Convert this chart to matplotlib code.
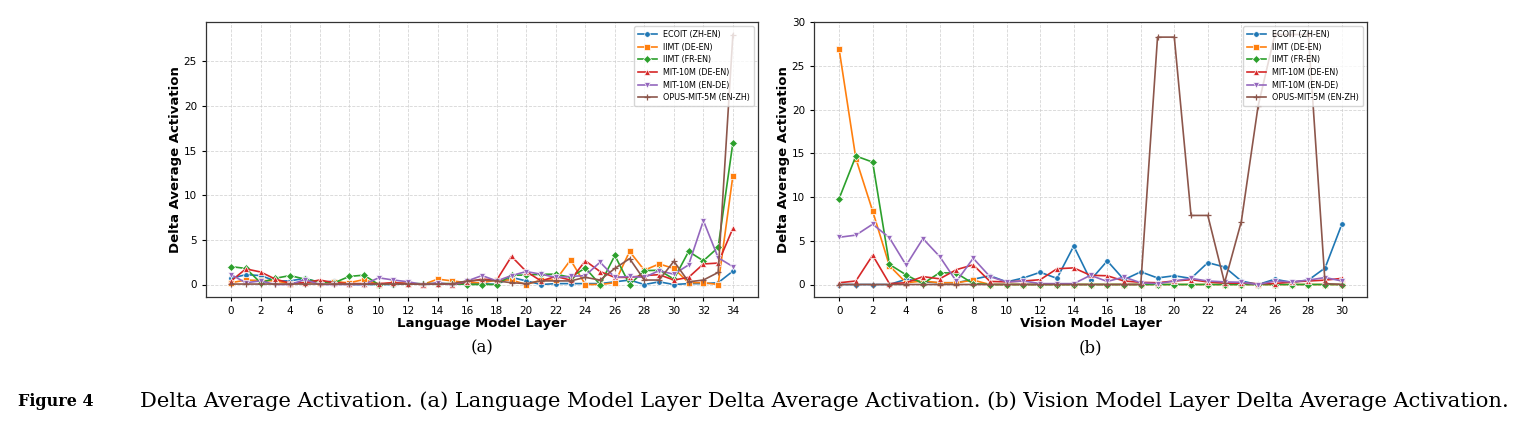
import matplotlib
matplotlib.use("Agg")
import matplotlib.pyplot as plt
import numpy as np

series_names = ["ECOIT (ZH-EN)", "IIMT (DE-EN)", "IIMT (FR-EN)",
                "MIT-10M (DE-EN)", "MIT-10M (EN-DE)", "OPUS-MIT-5M (EN-ZH)"]
markers = ["o", "s", "D", "^", "v", "+"]
colors = ["#1f77b4", "#ff7f0e", "#2ca02c", "#d62728", "#9467bd", "#8c564b"]

# ---- (a) Language model layers 0..34 ----
lm_layers = list(range(35))
lm_ecoit = [0.7, 1.1, 1.0, 0.4, 0.4, 0.7, 0.2, 0.4, 0.0, 0.0, 0.0, 0.0, 0.1, 0.0, 0.1,
            0.0, 0.1, 0.1, 0.0, 0.8, 0.4, 0.0, 0.1, 0.1, 0.1, 0.1, 0.3, 0.5, 0.0, 0.3,
            0.0, 0.1, 0.1, 0.2, 1.5]
lm_iimt_de = [0.2, 0.5, 0.45, 0.4, 0.1, 0.2, 0.2, 0.3, 0.2, 0.55, 0.0, 0.2, 0.1, 0.0, 0.6,
              0.4, 0.2, 0.2, 0.5, 0.5, 0.0, 0.5, 0.5, 2.75, 0.0, 0.0, 0.2, 3.7, 1.6, 2.3,
              1.8, 0.2, 0.2, 0.0, 12.2]
lm_iimt_fr = [2.0, 1.8, 0.2, 0.7, 1.0, 0.6, 0.3, 0.2, 0.9, 1.05, 0.0, 0.1, 0.1, 0.1, 0.1,
              0.1, 0.0, 0.0, 0.0, 1.05, 1.05, 1.15, 1.15, 0.8, 1.85, 0.0, 3.25, 0.0, 1.55, 1.6,
              0.6, 3.7, 2.65, 4.15, 15.9]
lm_mit_de = [0.4, 1.75, 1.4, 0.6, 0.15, 0.2, 0.5, 0.2, 0.1, 0.1, 0.1, 0.2, 0.1, 0.0, 0.1,
             0.0, 0.3, 0.6, 0.5, 3.15, 1.45, 0.4, 0.9, 0.5, 2.65, 1.45, 0.8, 0.8, 1.0, 1.1,
             0.5, 0.8, 2.3, 2.4, 6.3]
lm_mit_en = [1.1, 0.2, 0.4, 0.0, 0.0, 0.55, 0.0, 0.0, 0.0, 0.0, 0.75, 0.5, 0.3, 0.0, 0.2,
             0.0, 0.4, 1.0, 0.4, 1.0, 1.45, 1.15, 0.8, 0.9, 1.0, 2.5, 0.8, 0.9, 0.8, 1.55,
             1.15, 2.2, 7.15, 3.0, 2.0]
lm_opus = [0.05, 0.05, 0.05, 0.05, 0.05, 0.05, 0.05, 0.05, 0.05, 0.05, 0.05, 0.05, 0.05, 0.05, 0.05,
           0.1, 0.4, 0.5, 0.4, 0.2, 0.1, 0.4, 0.4, 0.4, 0.8, 0.5, 1.8, 2.9, 0.5, 0.5,
           2.6, 0.3, 0.5, 1.35, 28.0]

# ---- (b) Vision model layers 0..30 ----
vm_layers = list(range(31))
vm_ecoit = [0.0, 0.0, 0.0, 0.0, 0.6, 0.3, 0.2, 0.2, 0.6, 1.0, 0.3, 0.75, 1.4, 0.7, 4.4,
            0.5, 2.7, 0.55, 1.45, 0.75, 1.0, 0.7, 2.5, 2.0, 0.4, 0.0, 0.6, 0.25, 0.5, 1.9, 6.9]
vm_iimt_de = [26.9, 14.4, 8.4, 2.15, 0.2, 0.4, 0.2, 0.2, 0.5, 0.0, 0.0, 0.0, 0.0, 0.0, 0.0,
              0.0, 0.0, 0.0, 0.0, 0.0, 0.0, 0.0, 0.0, 0.0, 0.0, 0.0, 0.0, 0.0, 0.0, 0.0, 0.0]
vm_iimt_fr = [9.83, 14.7, 14.0, 2.3, 1.1, 0.1, 1.35, 1.3, 0.1, 0.0, 0.0, 0.0, 0.0, 0.0, 0.0,
              0.0, 0.0, 0.0, 0.0, 0.0, 0.0, 0.0, 0.0, 0.0, 0.0, 0.0, 0.0, 0.0, 0.0, 0.0, 0.0]
vm_mit_de = [0.2, 0.4, 3.35, 0.1, 0.2, 0.9, 0.65, 1.7, 2.25, 0.35, 0.3, 0.4, 0.55, 1.8, 1.9,
             1.05, 1.0, 0.4, 0.25, 0.2, 0.4, 0.55, 0.3, 0.15, 0.15, 0.1, 0.1, 0.3, 0.4, 0.5, 0.7]
vm_mit_en = [5.4, 5.65, 6.9, 5.35, 2.2, 5.25, 3.2, 0.35, 3.0, 0.9, 0.3, 0.4, 0.1, 0.1, 0.1,
             1.05, 0.35, 0.85, 0.2, 0.1, 0.4, 0.7, 0.4, 0.3, 0.25, 0.0, 0.4, 0.3, 0.5, 0.8, 0.4]
vm_opus = [0.0, 0.0, 0.0, 0.0, 0.0, 0.0, 0.0, 0.0, 0.0, 0.0, 0.0, 0.0, 0.0, 0.0, 0.0,
           0.0, 0.0, 0.0, 0.0, 28.3, 28.3, 7.9, 7.9, 0.2, 7.2, 20.4, 28.6, 28.6, 28.6, 0.1, 0.0]

lm_series = [lm_ecoit, lm_iimt_de, lm_iimt_fr, lm_mit_de, lm_mit_en, lm_opus]
vm_series = [vm_ecoit, vm_iimt_de, vm_iimt_fr, vm_mit_de, vm_mit_en, vm_opus]

W, H = 1528, 425
fig = plt.figure(figsize=(W / 100, H / 100), dpi=100)

def px_axes(x0, x1, y0, y1):
    return fig.add_axes([x0 / W, 1 - y1 / H, (x1 - x0) / W, (y1 - y0) / H])

ax1 = px_axes(206, 758, 22, 297)
ax2 = px_axes(814, 1367, 22, 297)

def draw(ax, layers, series, xlabel, xticks):
    for name, vals, m, c in zip(series_names, series, markers, colors):
        kw = dict(color=c, marker=m, lw=1.2, label=name, markersize=4)
        if m == "+":
            kw.update(markeredgecolor=c, markeredgewidth=0.9, markersize=5)
        elif m == "^" or m == "v":
            kw.update(markeredgecolor="white", markeredgewidth=0.5, markersize=4.5)
        else:
            kw.update(markeredgecolor="white", markeredgewidth=0.5)
        ax.plot(layers, vals, **kw)
    ax.set_xticks(xticks)
    ax.grid(True, linestyle="--", color="#cccccc", linewidth=0.6, alpha=0.8)
    ax.set_axisbelow(True)
    ax.tick_params(labelsize=7.5, length=3, width=0.8)
    ax.set_xlabel(xlabel, fontsize=9.5, fontweight="bold", labelpad=0.5)
    ax.set_ylabel("Delta Average Activation", fontsize=9.5, fontweight="bold", labelpad=1)
    for s in ax.spines.values():
        s.set_color("#333333")
        s.set_linewidth(0.9)
    ax.legend(loc="upper right", fontsize=5.8, framealpha=0.8, handlelength=2.3,
              borderpad=0.5, labelspacing=0.45)

draw(ax1, lm_layers, lm_series, "Language Model Layer", list(range(0, 35, 2)))
draw(ax2, vm_layers, vm_series, "Vision Model Layer", list(range(0, 31, 2)))

serif = ["DejaVu Serif"]
fig.text((206 + 758) / 2 / W, 1 - 348 / H, "(a)", ha="center", va="center",
         fontsize=12, family=serif)
fig.text((814 + 1367) / 2 / W, 1 - 348 / H, "(b)", ha="center", va="center",
         fontsize=12, family=serif)

cap_y = 1 - 401 / H
t1 = fig.text(18 / W, cap_y, "Figure 4", ha="left", va="center", fontsize=11.5,
              fontweight="bold", family=serif)
t2 = fig.text(140 / W, cap_y,
              "Delta Average Activation. (a) Language Model Layer Delta Average Activation. "
              "(b) Vision Model Layer Delta Average Activation.",
              ha="left", va="center", fontsize=11.5, family=serif)
# fit caption width to reference span
r = fig.canvas.get_renderer()
bb = t2.get_window_extent(r)
target = 1510 - 140
t2.set_fontsize(11.5 * target / bb.width)

fig.savefig("out.png", dpi=100)
